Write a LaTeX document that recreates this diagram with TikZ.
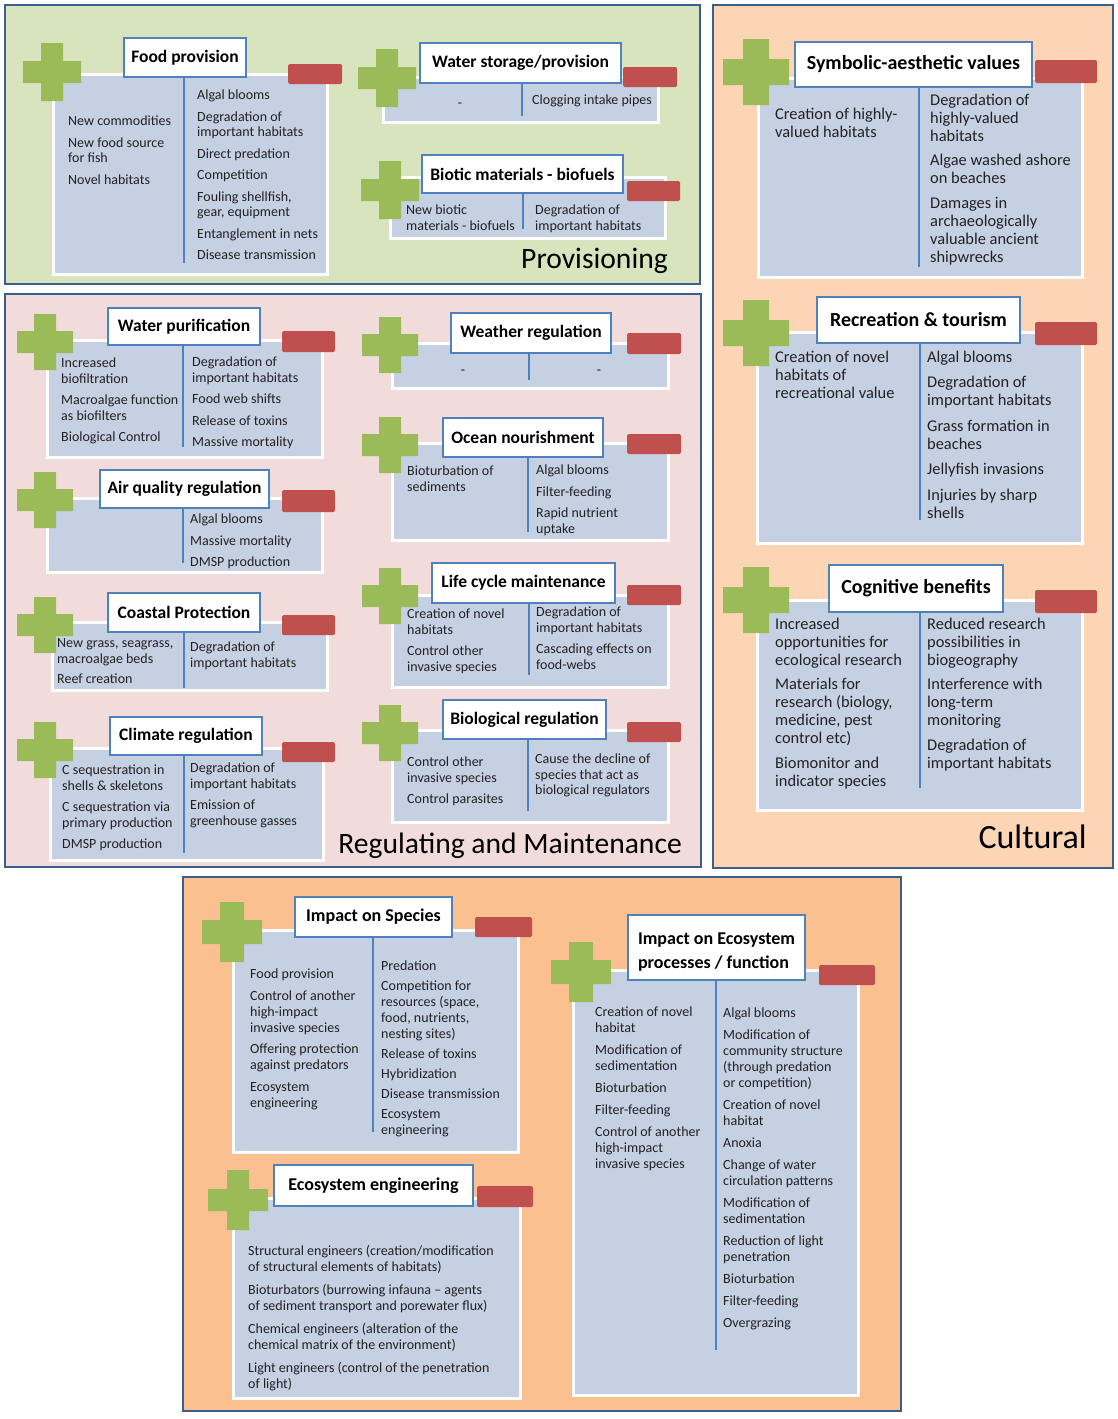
\documentclass[tikz,border=0pt]{standalone}
\usepackage{fontspec}
\setmainfont{Carlito}
\definecolor{provbg}{HTML}{D7E4BD}
\definecolor{regbg}{HTML}{F2DCDB}
\definecolor{cultbg}{HTML}{FCD5B5}
\definecolor{botbg}{HTML}{FAC090}
\definecolor{panelline}{HTML}{3B5E8C}
\definecolor{cardfill}{HTML}{C5D0E3}
\definecolor{titleline}{HTML}{4F81BD}
\definecolor{plusgreen}{HTML}{9BBB59}
\definecolor{minusred}{HTML}{C0504D}
\definecolor{txtcol}{HTML}{222222}
\newcommand\mkcard[5]{\node[cardn, minimum width={(#4-#2)*1pt}, minimum height={(#5-#3)*1pt}] (#1) at ({(#2+#4)/2},{(#3+#5)/2}) {};}
\newcommand\mktitle[7][]{\node[titlen,#1, minimum width={(#5-#3)*1pt}, minimum height={(#6-#4)*1pt}] (#2) at ({(#3+#5)/2},{(#4+#6)/2}) {#7};}
\newcommand\mkplus[5]{\fill[plusgreen] ({#2-#4},{#3-#5}) rectangle ({#2+#4},{#3+#5}) ({#2-#5},{#3-#4}) rectangle ({#2+#5},{#3+#4});}
\newcommand\mkminus[5]{\fill[minusred, rounded corners=1.5pt] (#2,#3) rectangle (#4,#5);}
\newcommand\mkdiv[4]{\coordinate (#1-d) at (#2,#3); \draw[divline] (#4.south -| #1-d) -- (#1-d);}
\begin{document}
\begin{tikzpicture}[x=1pt,y=-1pt,
 panel/.style={draw=panelline, line width=2.5pt},
 cardn/.style={draw=white, fill=cardfill, line width=3pt, inner sep=0},
 titlen/.style={draw=titleline, fill=white, line width=2.5pt, inner sep=0, text=black, font=\bfseries\fontsize{17.5}{21}\selectfont},
 ctitle/.style={font=\bfseries\fontsize{20}{24}\selectfont},
 btitle/.style={font=\bfseries\fontsize{18}{24}\selectfont},
 divline/.style={draw=titleline, line width=2.5pt},
 tbase/.style={inner sep=0, align=left, anchor=north west, text=txtcol},
 txt/.style={tbase, yshift=5.5pt, font=\fontsize{14}{15.5}\selectfont},
 ctxt/.style={tbase, yshift=6.6pt, font=\fontsize{16.4}{18}\selectfont},
 btxt/.style={tbase, yshift=5.7pt, font=\fontsize{14}{16}\selectfont},
 dashn/.style={inner sep=0, text=txtcol, font=\fontsize{14}{16}\selectfont},
 seclabel/.style={inner sep=0, anchor=base east, text=black}]
\useasboundingbox (0,0) rectangle (1117,1419);
\fill[white] (0,0) rectangle (1117,1419);
% panels
\node[panel, fill=provbg, minimum width=695pt, minimum height=279pt, inner sep=0] (prov) at (352.5,144.5) {};
\node[panel, fill=regbg, minimum width=696pt, minimum height=573pt, inner sep=0] (reg) at (353,580.5) {};
\node[panel, fill=cultbg, minimum width=400pt, minimum height=863pt, inner sep=0] (cult) at (913,436.5) {};
\node[panel, fill=botbg, minimum width=718pt, minimum height=534pt, inner sep=0] (bot) at (542,1144) {};

% ---------- Food provision
\mkcard{fp}{53}{74}{327}{274}
\mkplus{fp}{52}{72}{29}{11}
\mkminus{fp}{288}{64}{342}{84}
\mktitle{fp-t}{124}{38}{246}{77}{Food provision}
\mkdiv{fp}{184}{263}{fp-t}
\node[txt] (fp-l) at (68,120) {\strut New commodities\\[6pt]New food source\\for fish\\[6pt]Novel habitats};
\node[txt] (fp-r) at (197,94) {\strut Algal blooms\\[6pt]Degradation of\\important habitats\\[6pt]Direct predation\\[6pt]Competition\\[6pt]Fouling shellfish,\\gear, equipment\\[6pt]Entanglement in nets\\[6pt]Disease transmission};

% ---------- Water storage
\mkcard{ws}{383}{77}{658}{122}
\mkplus{ws}{387}{78}{29}{11}
\mkminus{ws}{623}{67}{677}{87}
\mktitle{ws-t}{420}{43}{621}{83}{Water storage/provision}
\mkdiv{ws}{522}{116}{ws-t}
\node[dashn] (ws-l) at (460,105) {-};
\node[txt] (ws-r) at (532,99) {\strut Clogging intake pipes};

% ---------- Biotic materials
\mkcard{bm}{390}{177}{665}{238}
\mkplus{bm}{390}{190}{29}{11}
\mkminus{bm}{627}{181}{680}{201}
\mktitle{bm-t}{422}{155}{623}{193}{Biotic materials - biofuels}
\mkdiv{bm}{523}{229}{bm-t}
\node[txt] (bm-l) at (406,209) {\strut New biotic\\materials - biofuels};
\node[txt] (bm-r) at (535,209) {\strut Degradation of\\important habitats};

\node[seclabel, font=\fontsize{29.6}{32}\selectfont] (prov-lab) at (668,268) {Provisioning};

% ---------- Symbolic-aesthetic
\mkcard{sa}{758}{78}{1082}{277}
\mkplus{sa}{756}{72}{33}{13}
\mkminus{sa}{1035}{60}{1097}{83}
\mktitle[ctitle]{sa-t}{795}{42}{1032}{87}{Symbolic-aesthetic values}
\mkdiv{sa}{919}{267}{sa-t}
\node[ctxt] (sa-l) at (775,113) {\strut Creation of highly-\\valued habitats};
\node[ctxt] (sa-r) at (930,99) {\strut Degradation of\\highly-valued\\habitats\\[6.5pt]Algae washed ashore\\on beaches\\[6.5pt]Damages in\\archaeologically\\valuable ancient\\shipwrecks};

% ---------- Recreation
\mkcard{rt}{757}{332}{1082}{543}
\mkplus{rt}{756}{333}{33}{13}
\mkminus{rt}{1035}{322}{1097}{345}
\mktitle[ctitle]{rt-t}{817}{297}{1020}{343}{Recreation \& tourism}
\mkdiv{rt}{920}{520}{rt-t}
\node[ctxt] (rt-l) at (775,356) {\strut Creation of novel\\habitats of\\recreational value};
\node[ctxt] (rt-r) at (927,356) {\strut Algal blooms\\[7.5pt]Degradation of\\important habitats\\[7.5pt]Grass formation in\\beaches\\[7.5pt]Jellyfish invasions\\[7.5pt]Injuries by sharp\\shells};

% ---------- Cognitive
\mkcard{cb}{757}{600}{1082}{810}
\mkplus{cb}{756}{600}{33}{13}
\mkminus{cb}{1035}{590}{1097}{613}
\mktitle[ctitle]{cb-t}{829}{565}{1003}{612}{Cognitive benefits}
\mkdiv{cb}{920}{788}{cb-t}
\node[ctxt] (cb-l) at (775,623) {\strut Increased\\opportunities for\\ecological research\\[6.5pt]Materials for\\research (biology,\\medicine, pest\\control etc)\\[6.5pt]Biomonitor and\\indicator species};
\node[ctxt] (cb-r) at (927,623) {\strut Reduced research\\possibilities in\\biogeography\\[6.5pt]Interference with\\long-term\\monitoring\\[6.5pt]Degradation of\\important habitats};

\node[seclabel, font=\fontsize{34}{36}\selectfont] (cult-lab) at (1087,848) {Cultural};

% ---------- Water purification
\mkcard{wp}{47}{340}{322}{457}
\mkplus{wp}{45}{342}{28}{11}
\mkminus{wp}{282}{331}{335}{352}
\mktitle{wp-t}{108}{308}{260}{345}{Water purification}
\mkdiv{wp}{183}{447}{wp-t}
\node[txt] (wp-l) at (61,362) {\strut Increased\\biofiltration\\[6pt]Macroalgae function\\as biofilters\\[6pt]Biological Control};
\node[txt] (wp-r) at (192,361) {\strut Degradation of\\important habitats\\[6pt]Food web shifts\\[6pt]Release of toxins\\[6pt]Massive mortality};

% ---------- Air quality
\mkcard{aq}{47}{498}{322}{572}
\mkplus{aq}{45}{500}{28}{11}
\mkminus{aq}{282}{490}{335}{512}
\mktitle{aq-t}{100}{470}{269}{508}{Air quality regulation}
\mkdiv{aq}{183}{563}{aq-t}
\node[txt] (aq-r) at (190,518) {\strut Algal blooms\\[6pt]Massive mortality\\[6pt]DMSP production};

% ---------- Coastal protection
\mkcard{cp}{52}{622}{327}{690}
\mkplus{cp}{45}{625}{28}{11}
\mkminus{cp}{282}{615}{335}{635}
\mktitle{cp-t}{108}{593}{260}{632}{Coastal Protection}
\mkdiv{cp}{184}{688}{cp-t}
\node[txt] (cp-l) at (57,642) {\strut New grass, seagrass,\\macroalgae beds\\[5pt]Reef creation};
\node[txt] (cp-r) at (190,646) {\strut Degradation of\\important habitats};

% ---------- Climate regulation
\mkcard{cr}{50}{748}{323}{860}
\mkplus{cr}{45}{750}{28}{11}
\mkminus{cr}{282}{742}{335}{762}
\mktitle{cr-t}{110}{717}{262}{755}{Climate regulation}
\mkdiv{cr}{184}{853}{cr-t}
\node[txt] (cr-l) at (62,769) {\strut C sequestration in\\shells \& skeletons\\[6pt]C sequestration via\\primary production\\[6pt]DMSP production};
\node[txt] (cr-r) at (190,767) {\strut Degradation of\\important habitats\\[6pt]Emission of\\greenhouse gasses};

% ---------- Weather regulation
\mkcard{wr}{392}{343}{668}{388}
\mkplus{wr}{390}{345}{28}{11}
\mkminus{wr}{627}{333}{681}{354}
\mktitle{wr-t}{451}{313}{611}{353}{Weather regulation}
\mkdiv{wr}{529}{380}{wr-t}
\node[dashn] (wr-l) at (463,372) {-};
\node[dashn] (wr-r) at (599,372) {-};

% ---------- Ocean nourishment
\mkcard{on}{392}{443}{668}{540}
\mkplus{on}{390}{445}{28}{11}
\mkminus{on}{627}{434}{681}{454}
\mktitle{on-t}{443}{418}{603}{457}{Ocean nourishment}
\mkdiv{on}{528}{532}{on-t}
\node[txt] (on-l) at (407,470) {\strut Bioturbation of\\sediments};
\node[txt] (on-r) at (536,469) {\strut Algal blooms\\[6pt]Filter-feeding\\[6pt]Rapid nutrient\\uptake};

% ---------- Life cycle maintenance
\mkcard{lc}{392}{595}{668}{687}
\mkplus{lc}{390}{596}{28}{11}
\mkminus{lc}{627}{585}{681}{605}
\mktitle{lc-t}{432}{563}{615}{603}{Life cycle maintenance}
\mkdiv{lc}{529}{675}{lc-t}
\node[txt] (lc-l) at (407,613) {\strut Creation of novel\\habitats\\[6pt]Control other\\invasive species};
\node[txt] (lc-r) at (536,611) {\strut Degradation of\\important habitats\\[6pt]Cascading effects on\\food-webs};

% ---------- Biological regulation
\mkcard{br}{392}{730}{668}{822}
\mkplus{br}{390}{733}{28}{11}
\mkminus{br}{627}{722}{681}{742}
\mktitle{br-t}{443}{700}{606}{739}{Biological regulation}
\mkdiv{br}{528}{811}{br-t}
\node[txt] (br-l) at (407,761) {\strut Control other\\invasive species\\[6pt]Control parasites};
\node[txt] (br-r) at (535,758) {\strut Cause the decline of\\species that act as\\biological regulators};

\node[seclabel, font=\fontsize{29.6}{32}\selectfont] (reg-lab) at (682,853) {Regulating and Maintenance};

% ---------- Impact on Species
\mkcard{is}{233}{930}{518}{1152}
\mkplus{is}{232}{932}{30}{12}
\mkminus{is}{475}{917}{532}{937}
\mktitle[btitle]{is-t}{295}{897}{452}{937}{Impact on Species}
\mkdiv{is}{373}{1132}{is-t}
\node[btxt] (is-l) at (250,973) {\strut Food provision\\[5.5pt]Control of another\\high-impact\\invasive species\\[5.5pt]Offering protection\\against predators\\[5.5pt]Ecosystem\\engineering};
\node[btxt] (is-r) at (381,965) {\strut Predation\\[4pt]Competition for\\resources (space,\\food, nutrients,\\nesting sites)\\[4pt]Release of toxins\\[4pt]Hybridization\\[4pt]Disease transmission\\[4pt]Ecosystem\\engineering};

% ---------- Ecosystem engineering
\mkcard{ee}{233}{1198}{520}{1398}
\mkplus{ee}{238}{1200}{30}{11}
\mkminus{ee}{477}{1186}{533}{1207}
\mktitle[btitle]{ee-t}{274}{1165}{473}{1206}{Ecosystem engineering}
\node[btxt] (ee-x) at (248,1250) {\strut Structural engineers (creation/modification\\of structural elements of habitats)\\[7pt]Bioturbators (burrowing infauna -- agents\\of sediment transport and porewater flux)\\[7pt]Chemical engineers (alteration of the\\chemical matrix of the environment)\\[7pt]Light engineers (control of the penetration\\of light)};

% ---------- Impact on Ecosystem processes
\mkcard{ie}{573}{970}{858}{1395}
\mkplus{ie}{581}{972}{30}{12}
\mkminus{ie}{819}{965}{875}{985}
\mktitle[btitle, align=left]{ie-t}{628}{915}{805}{980}{\rule{0pt}{21.5pt}Impact on Ecosystem\\processes / function}
\mkdiv{ie}{716}{1350}{ie-t}
\node[btxt] (ie-l) at (595,1011) {\strut Creation of novel\\habitat\\[6pt]Modification of\\sedimentation\\[6pt]Bioturbation\\[6pt]Filter-feeding\\[6pt]Control of another\\high-impact\\invasive species};
\node[btxt] (ie-r) at (723,1012) {\strut Algal blooms\\[6pt]Modification of\\community structure\\(through predation\\or competition)\\[6pt]Creation of novel\\habitat\\[6pt]Anoxia\\[6pt]Change of water\\circulation patterns\\[6pt]Modification of\\sedimentation\\[6pt]Reduction of light\\penetration\\[6pt]Bioturbation\\[6pt]Filter-feeding\\[6pt]Overgrazing};
\end{tikzpicture}
\end{document}
